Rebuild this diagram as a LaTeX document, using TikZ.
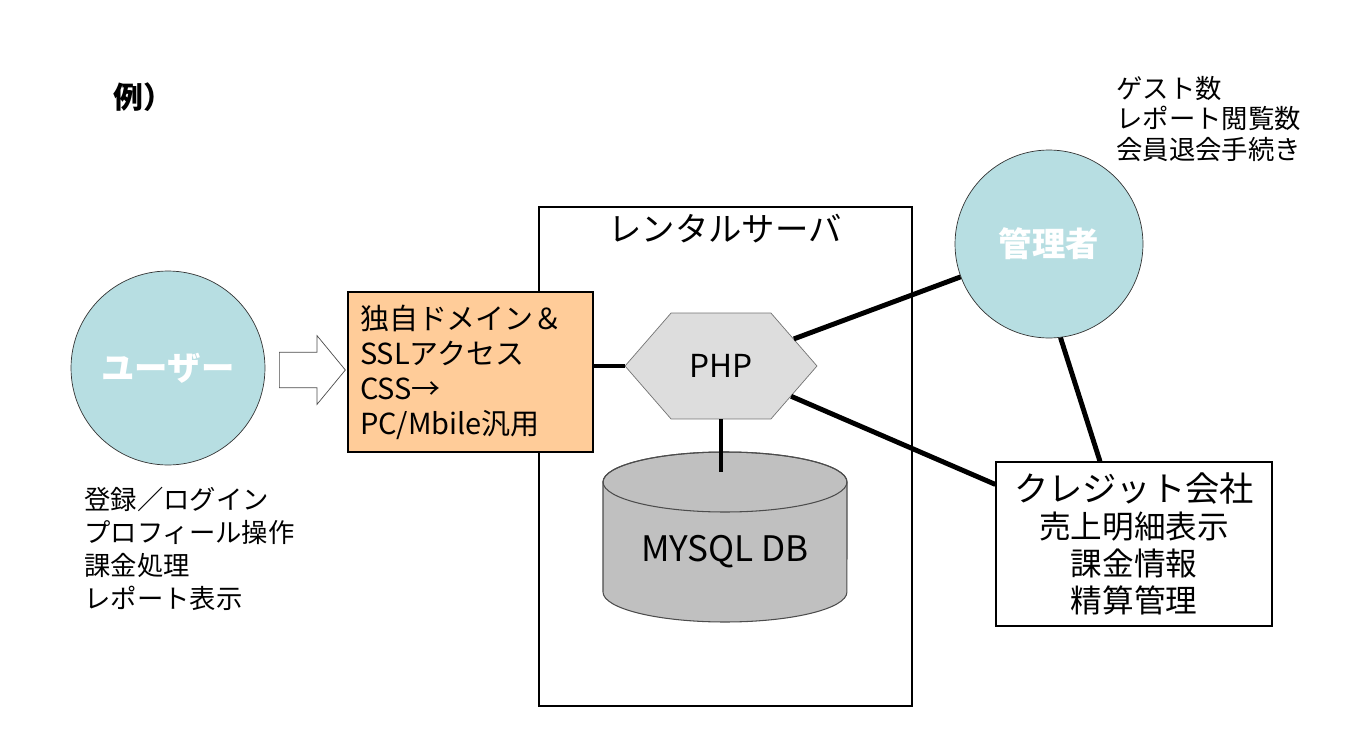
\documentclass[tikz,border=0pt]{standalone}
\usepackage{fontspec}
\setmainfont{Noto Sans CJK JP}
\usepackage{tikz}
\usetikzlibrary{positioning}
\usetikzlibrary{shapes.symbols,shapes.arrows}
\usepackage{xcolor}
\definecolor{usercyan}{RGB}{183,222,226}
\definecolor{sslorange}{RGB}{255,204,153}
\definecolor{phpgray}{RGB}{221,221,221}
\definecolor{dbgray}{RGB}{192,192,192}

\begin{document}
\begin{tikzpicture}[x=0.02cm, y=-0.02cm,
    actor/.style={circle, draw=black!80, fill=usercyan, inner sep=0pt, text=white, font=\fontsize{19}{22}\selectfont\bfseries},
    plain/.style={draw, line width=0.7pt},
    link/.style={line width=2.8pt},
    note/.style={align=left, inner sep=0pt}]
    \useasboundingbox (0,0) rectangle (1350,730);

    % Title
    \node[anchor=west, inner sep=0pt, font=\fontsize{17}{20}\selectfont\bfseries] (rei) at (113,97) {例）};

    % Rental server
    \node[plain, minimum width=7.46cm, minimum height=9.98cm] (server) at (725.5,456.5) {};
    \node[font=\fontsize{19}{22}\selectfont] (srvlabel) at (725,229) {レンタルサーバ};

    % Database
    \filldraw[draw=black!70, fill=dbgray, line width=0.6pt] (603,482) -- (603,592)
        arc[start angle=180, end angle=360, x radius=2.44cm, y radius=0.6cm] -- (847,482)
        arc[start angle=0, end angle=180, x radius=2.44cm, y radius=0.6cm] -- cycle;
    \draw[black!70, line width=0.6pt] (725,482) ellipse[x radius=2.44cm, y radius=0.6cm];
    \node[font=\fontsize{20}{22}\selectfont] (db) at (725,552) {MYSQL DB};
    \coordinate (dbtop) at (721,472);

    % PHP
    \node[signal, signal to=east and west, signal pointer angle=98, draw=black!55, fill=phpgray, minimum width=3.84cm, minimum height=2.12cm, inner sep=0pt, font=\fontsize{18}{20}\selectfont] (php) at (721,366) {PHP};

    % Access box
    \node[plain, fill=sslorange, minimum width=4.9cm, minimum height=3.2cm, text width=4.42cm, inner xsep=0.24cm, align=left, font=\fontsize{16.5}{19.9}\selectfont] (ssl) at (470.5,372) {独自ドメイン＆\\SSLアクセス\\CSS→\\PC/Mbile汎用};

    % User
    \node[actor, minimum size=3.88cm] (user) at (168,368) {ユーザー};
    \node[single arrow, draw=black!70, fill=white, minimum height=1.32cm, minimum width=1.36cm, single arrow head extend=0.33cm, single arrow tip angle=101, inner xsep=0pt, inner ysep=0.35cm] (push) at (305,370) {};
    \node[note, anchor=west, font=\fontsize{15}{18.8}\selectfont] (usernote) at (84,549) {登録／ログイン\\プロフィール操作\\課金処理\\レポート表示};

    % Admin
    \node[actor, minimum size=3.76cm] (admin) at (1049,244) {管理者};
    \node[note, anchor=west, font=\fontsize{15}{17.6}\selectfont] (adminnote) at (1116,119) {ゲスト数\\レポート閲覧数\\会員退会手続き};

    % Credit company
    \node[plain, minimum width=5.52cm, minimum height=3.28cm, align=center, font=\fontsize{18}{21}\selectfont] (credit) at (1134,544) {{\fontsize{19.5}{22}\selectfont クレジット会社}\\売上明細表示\\課金情報\\精算管理};

    % Links
    \draw[link] (ssl.east |- php.west) -- (php.west);
    \draw[link] (php.south) -- (dbtop);
    \draw[link] (php) -- (admin);
    \draw[link] (php) -- (credit);
    \draw[link] (admin.-83) -- ([xshift=-0.68cm]credit.north);
\end{tikzpicture}
\end{document}
